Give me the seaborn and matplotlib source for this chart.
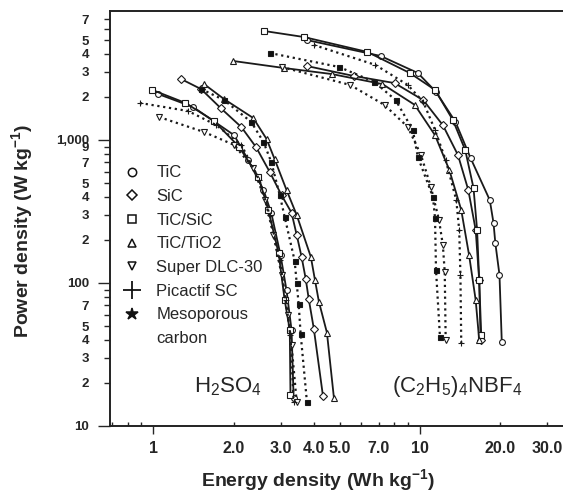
import numpy as np
import pandas as pd
import matplotlib
matplotlib.use("Agg")
import matplotlib.pyplot as plt
from matplotlib.lines import Line2D
from matplotlib.ticker import FixedLocator, FixedFormatter
import seaborn as sns

# ---------------- data (energy density Wh/kg, power density W/kg) ----------------
materials = ["TiC", "SiC", "TiC/SiC", "TiC/TiO2", "Super DLC-30", "Picactif SC", "Mesoporous carbon"]

# H2SO4 electrolyte
h_tic_e = [1.04, 1.41, 2.01, 2.27, 2.59, 2.77, 3.00, 3.16, 3.30, 3.36]
h_tic_p = [2100, 1700, 1080, 724, 447, 309, 157, 89, 47, 15.7]
h_sic_e = [1.27, 1.51, 1.79, 2.14, 2.43, 2.73, 3.03, 3.30, 3.45, 3.60, 3.73, 3.83, 4.00, 4.33]
h_sic_p = [2670, 2270, 1670, 1230, 890, 600, 410, 310, 217, 152, 107, 77, 48, 16.2]
h_ticsic_e = [0.99, 1.32, 1.69, 2.10, 2.48, 2.70, 2.95, 3.11, 3.25, 3.27]
h_ticsic_p = [2240, 1815, 1358, 893, 551, 324, 162, 76, 47, 16.5]
h_tictio2_e = [1.55, 1.84, 2.37, 2.66, 2.85, 3.16, 3.45, 3.90, 4.04, 4.18, 4.48, 4.76]
h_tictio2_p = [2460, 1935, 1425, 1016, 736, 447, 299, 152, 105, 74, 45, 15.7]
h_dlc_e = [1.05, 1.55, 2.01, 2.37, 2.63, 2.82, 3.03, 3.19, 3.30, 3.45]
h_dlc_p = [1448, 1137, 923, 637, 380, 217, 114, 60, 37, 14.7]
h_pic_e = [0.89, 1.35, 1.72, 2.14, 2.50, 2.73, 2.98, 3.14, 3.27, 3.36]
h_pic_p = [1815, 1595, 1273, 923, 525, 299, 145, 76, 43, 14.7]
h_meso_e = [1.51, 1.84, 2.33, 2.59, 2.77, 2.98, 3.11, 3.39, 3.45, 3.51, 3.57, 3.77]
h_meso_p = [2273, 1904, 1336, 968, 701, 412, 290, 143, 100, 71, 44, 14.7]

# (C2H5)4NBF4 electrolyte
n_tic_e = [3.77, 7.12, 9.83, 11.5, 13.6, 15.5, 18.3, 18.9, 19.2, 19.9, 20.3]
n_tic_p = [5000, 3870, 2940, 2170, 1340, 748, 380, 263, 190, 114, 38.7]
n_sic_e = [3.77, 5.67, 8.04, 10.3, 12.2, 13.9, 15.2, 16.2, 16.7, 16.9]
n_sic_p = [3290, 2800, 2500, 1900, 1270, 785, 447, 235, 105, 40]
n_ticsic_e = [2.61, 3.67, 6.35, 9.17, 11.4, 13.3, 14.8, 15.9, 16.4, 16.7, 17.0]
n_ticsic_p = [5780, 5250, 4130, 2940, 2240, 1380, 851, 462, 235, 105, 43]
n_tictio2_e = [1.99, 3.08, 4.68, 7.24, 9.57, 11.4, 12.9, 14.3, 15.3, 16.2, 16.7]
n_tictio2_p = [3570, 3190, 2890, 2460, 1760, 1080, 617, 324, 157, 76, 40]
n_dlc_e = [3.03, 5.48, 7.37, 9.01, 10.1, 11.0, 11.8, 12.2, 12.4, 12.5]
n_dlc_p = [3240, 2425, 1757, 1233, 785, 469, 276, 184, 119, 40]
n_pic_e = [4.00, 6.81, 9.01, 10.3, 11.4, 12.5, 13.7, 14.05, 14.2, 14.3]
n_pic_p = [4620, 3350, 2425, 1844, 1175, 725, 380, 235, 114, 38.1]
n_meso_e = [2.73, 4.98, 6.75, 8.11, 9.41, 9.83, 11.2, 11.4, 11.5, 11.9]
n_meso_p = [4060, 3240, 2545, 1904, 1175, 761, 399, 285, 123, 41.9]

legend_labels = ["TiC", "SiC", "TiC/SiC", "TiC/TiO2", "Super DLC-30", "Picactif SC", "Mesoporous", "carbon"]

x_tick_vals = [1, 2, 3, 4, 5, 7, 10, 20, 30]
x_tick_labels = ["1", "2.0", "3.0", "4.0", "5.0", "7.0", "10", "20.0", "30.0"]
y_tick_vals = [10, 20, 30, 40, 50, 70, 100, 200, 300, 400, 500, 700, 900, 1000,
               2000, 3000, 4000, 5000, 7000]
y_tick_labels = ["10", "2", "3", "4", "5", "7", "100", "2", "3", "4", "5", "7", "9", "1,000",
                 "2", "3", "4", "5", "7"]

# ---------------- assemble ----------------
series = {
    ("TiC", "H2SO4"): (h_tic_e, h_tic_p),
    ("SiC", "H2SO4"): (h_sic_e, h_sic_p),
    ("TiC/SiC", "H2SO4"): (h_ticsic_e, h_ticsic_p),
    ("TiC/TiO2", "H2SO4"): (h_tictio2_e, h_tictio2_p),
    ("Super DLC-30", "H2SO4"): (h_dlc_e, h_dlc_p),
    ("Picactif SC", "H2SO4"): (h_pic_e, h_pic_p),
    ("Mesoporous carbon", "H2SO4"): (h_meso_e, h_meso_p),
    ("TiC", "NBF4"): (n_tic_e, n_tic_p),
    ("SiC", "NBF4"): (n_sic_e, n_sic_p),
    ("TiC/SiC", "NBF4"): (n_ticsic_e, n_ticsic_p),
    ("TiC/TiO2", "NBF4"): (n_tictio2_e, n_tictio2_p),
    ("Super DLC-30", "NBF4"): (n_dlc_e, n_dlc_p),
    ("Picactif SC", "NBF4"): (n_pic_e, n_pic_p),
    ("Mesoporous carbon", "NBF4"): (n_meso_e, n_meso_p),
}
rows = []
for (mat, elec), (es, ps) in series.items():
    for i, (e, p) in enumerate(zip(es, ps)):
        rows.append(dict(material=mat, electrolyte=elec, E=e, P=p, order=i))
df = pd.DataFrame(rows)

style = {
    "TiC": dict(marker="o", ls="-", ms=4.2, mfc="white"),
    "SiC": dict(marker="D", ls="-", ms=3.6, mfc="white"),
    "TiC/SiC": dict(marker="s", ls="-", ms=4.0, mfc="white"),
    "TiC/TiO2": dict(marker="^", ls="-", ms=4.2, mfc="white"),
    "Super DLC-30": dict(marker="v", ls=":", ms=4.2, mfc="white"),
    "Picactif SC": dict(marker="+", ls=":", ms=5.0, mfc="white"),
    "Mesoporous carbon": dict(marker="s", ls=":", ms=3.6, mfc="#111111"),
}

# ---------------- figure ----------------
sns.set_style("white")
plt.rcParams["font.family"] = ["Liberation Sans", "DejaVu Sans"]
plt.rcParams["mathtext.default"] = "regular"

fig = plt.figure(figsize=(5.63, 4.92), dpi=100)
ax = fig.add_axes([110 / 563, 66 / 492, 460 / 563, 415 / 492])

for (mat, elec), sub in df.groupby(["material", "electrolyte"], sort=False):
    st = style[mat]
    sns.lineplot(data=sub.sort_values("order"), x="E", y="P", ax=ax, sort=False,
                 estimator=None, color="#1a1a1a",
                 linestyle=st["ls"], linewidth=1.3 if st["ls"] == "-" else 1.6,
                 marker=st["marker"], markersize=st["ms"],
                 markerfacecolor=st["mfc"], markeredgecolor="#1a1a1a",
                 markeredgewidth=0.8)

ax.set_xscale("log")
ax.set_yscale("log")
ax.set_xlim(0.6875, 36.6)
ax.set_ylim(10, 7980)

# ticks
major_x = [1, 10]
ax.xaxis.set_major_locator(FixedLocator(major_x))
ax.xaxis.set_major_formatter(FixedFormatter(["1", "10"]))
minor_x = [0.7, 0.8, 0.9, 2, 3, 4, 5, 6, 7, 8, 9, 20, 30]
minor_x_lab = {v: l for v, l in zip(x_tick_vals, x_tick_labels)}
ax.xaxis.set_minor_locator(FixedLocator(minor_x))
ax.xaxis.set_minor_formatter(FixedFormatter([minor_x_lab.get(v, "") for v in minor_x]))

major_y = [10, 100, 1000]
ax.yaxis.set_major_locator(FixedLocator(major_y))
ax.yaxis.set_major_formatter(FixedFormatter(["10", "100", "1,000"]))
minor_y = [20, 30, 40, 50, 60, 70, 80, 90, 200, 300, 400, 500, 600, 700, 800, 900,
           2000, 3000, 4000, 5000, 6000, 7000]
y_lab = {v: l for v, l in zip(y_tick_vals, y_tick_labels)}
ax.yaxis.set_minor_locator(FixedLocator(minor_y))
ax.yaxis.set_minor_formatter(FixedFormatter([y_lab.get(v, "") for v in minor_y]))

ax.tick_params(axis="x", which="major", direction="out", length=6, width=1.0,
               pad=5, labelsize=11.5, bottom=True)
ax.tick_params(axis="x", which="minor", direction="in", length=3, width=1.0,
               pad=11, labelsize=11.5, bottom=True)
ax.tick_params(axis="y", which="major", direction="out", length=9, width=1.0,
               pad=6, labelsize=9.5, left=True)
ax.tick_params(axis="y", which="minor", direction="out", length=4, width=1.0,
               pad=11, labelsize=9.5, left=True)
for lab in ax.get_xticklabels(which="both") + ax.get_yticklabels(which="both"):
    lab.set_fontweight("bold")

for s in ["left", "bottom", "top"]:
    ax.spines[s].set_linewidth(1.4)
    ax.spines[s].set_color("#222222")
ax.spines["right"].set_visible(False)

ax.set_xlabel("Energy density (Wh kg$^{-1}$)", fontsize=14, fontweight="bold")
ax.set_ylabel("Power density (W kg$^{-1}$)", fontsize=14, fontweight="bold")
ax.xaxis.set_label_coords(0.4525, -0.098)
ax.yaxis.set_label_coords(-0.163, 0.47)

# electrolyte annotations
ax.text(0.256, 0.094, "H$_2$SO$_4$", transform=ax.transAxes, ha="center", va="center",
        fontsize=16)
ax.text(0.755, 0.094, "(C$_2$H$_5$)$_4$NBF$_4$", transform=ax.transAxes, ha="center",
        va="center", fontsize=16)

# legend
handles = []
leg_markers = [("o", 6, "white"), ("D", 5, "white"), ("s", 6, "white"), ("^", 6, "white"),
               ("v", 6, "white"), ("+", 13, "white"), ("*", 9, "#111111"), (None, 0, "white")]
for m, ms, fc in leg_markers:
    if m is None:
        handles.append(Line2D([], [], linestyle="none", marker=None))
    else:
        handles.append(Line2D([], [], linestyle="none", marker=m, markersize=ms,
                              markerfacecolor=fc, markeredgecolor="#111111",
                              markeredgewidth=1.3 if m == "+" else 1.1))
ax.legend(handles, legend_labels, loc="upper left", bbox_to_anchor=(0.03, 0.628),
          frameon=False, fontsize=12, handlelength=1.0, handletextpad=0.95,
          labelspacing=0.52, borderpad=0, borderaxespad=0)

fig.savefig("out.png", dpi=100)
